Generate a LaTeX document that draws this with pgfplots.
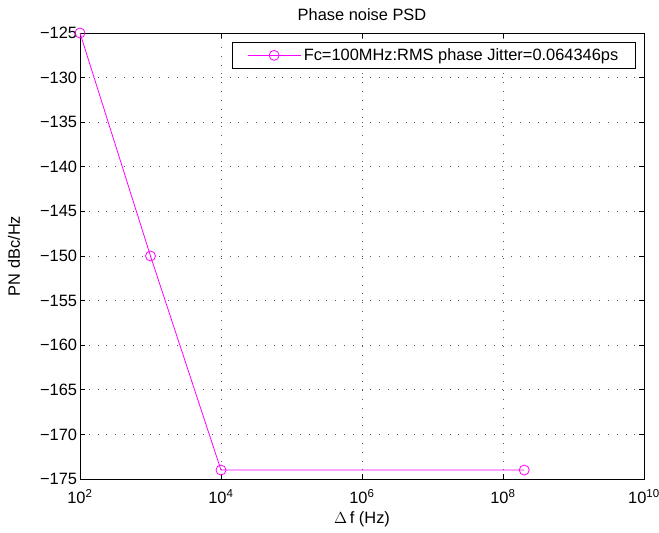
\documentclass[border=0pt]{standalone}
\usepackage{fontspec}
\setmainfont{Liberation Sans}
\usepackage{pgfplots}
\pgfplotsset{compat=1.18}
\definecolor{mlmagenta}{rgb}{1,0,1}

\begin{document}
\begin{tikzpicture}[font=\fontsize{12.3}{15}\selectfont]
\begin{axis}[
    scale only axis,
    width=423pt, height=334.5pt,
    xmode=log,
    xmin=1e2, xmax=1e10,
    ymin=-175, ymax=-125,
    xtick={1e2,1e4,1e6,1e8,1e10},
    xticklabels={10\textsuperscript{2},10\textsuperscript{4},10\textsuperscript{6},10\textsuperscript{8},10\textsuperscript{10}},
    ytick={-175,-170,...,-125},
    yticklabels={−175,−170,−165,−160,−155,−150,−145,−140,−135,−130,−125},
    minor xtick={},
    tick align=inside,
    major tick length=4pt,
    tick style={black, line width=0.5pt},
    axis line style={line width=0.6pt},
    xmajorgrids, ymajorgrids,
    grid style={black!65, line width=0.6pt, dash pattern=on 0.6pt off 6pt},
    yticklabel style={inner sep=0pt, xshift=-2pt},
    xticklabel style={inner sep=0pt, yshift=-8pt},
    title={Phase noise PSD},
    xlabel={$\Delta$\,f (Hz)},
    ylabel={PN dBc/Hz},
    xlabel style={yshift=-2pt},
    ylabel style={yshift=11.5pt},
    legend style={at={(1,1)}, anchor=north east, xshift=-6pt, yshift=-6.75pt,
        draw=black, line width=0.6pt, inner xsep=11pt, inner ysep=2.5pt, row sep=0pt,
        font=\fontsize{12.3}{15}\selectfont},
    legend cell align=left,
    legend image code/.code={\draw[mark repeat=2, mark phase=2, #1]
        plot coordinates {(-0.2cm,0cm) (0.5cm,0cm) (1.2cm,0cm)};},
    clip=false,
]
\addplot[mlmagenta, line width=0.6pt, mark=o, mark size=3.75pt,
    mark options={line width=0.6pt}] coordinates {
    (100,-125) (1000,-150) (10000,-174) (2e8,-174)
};
\addlegendentry{Fc=100MHz:RMS phase Jitter=0.064346ps}
\coordinate (sw) at (rel axis cs:0,0);
\coordinate (ne) at (rel axis cs:1,1);
\end{axis}
\pgfresetboundingbox
\path[use as bounding box] ([shift={(-60pt,-40.5pt)}]sw) rectangle ([shift={(11.25pt,24.75pt)}]ne);
\end{tikzpicture}
\end{document}
